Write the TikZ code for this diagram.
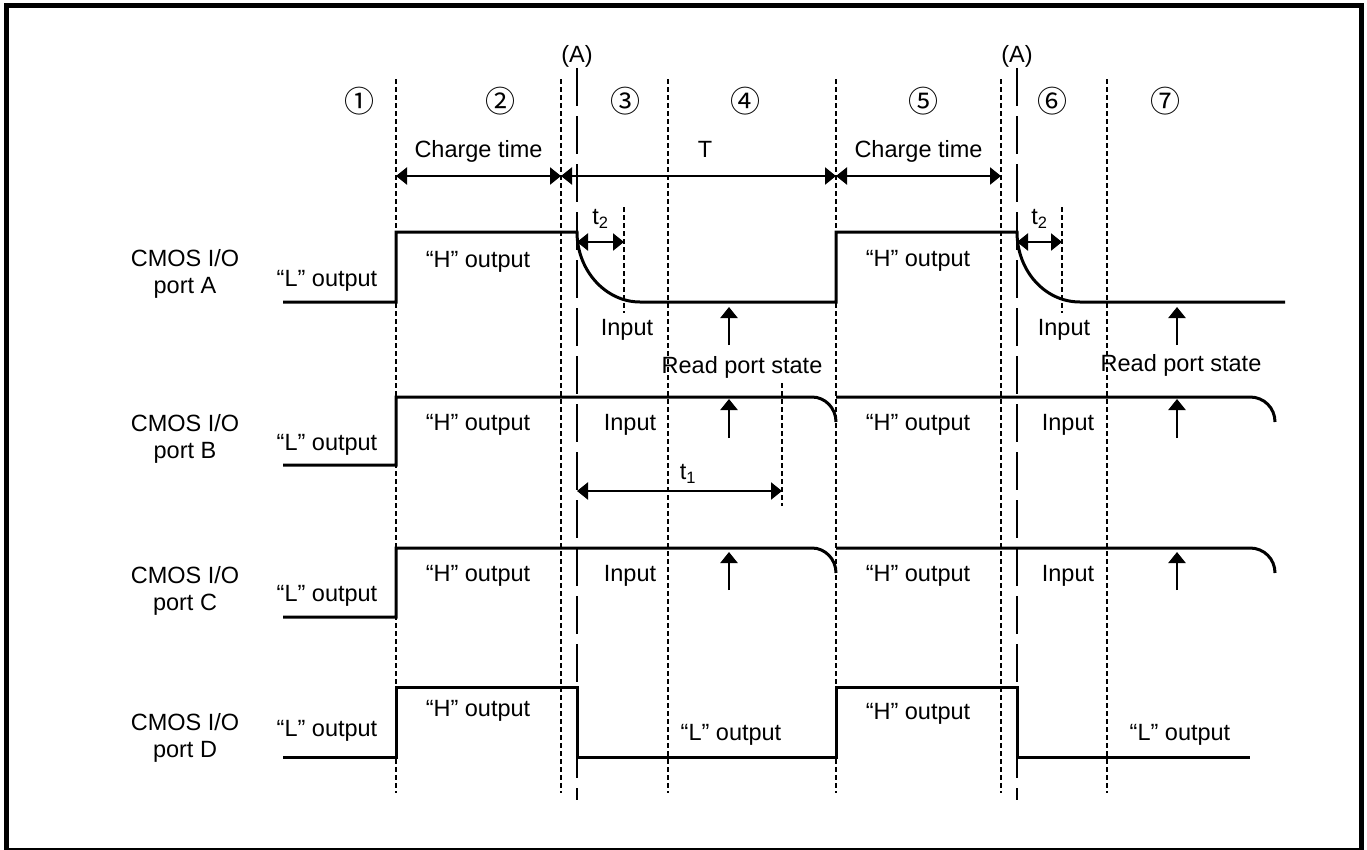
\documentclass[tikz,border=0pt]{standalone}
\usepackage{fontspec}
\setmainfont{Liberation Sans}
\newfontfamily\circfont{Noto Sans CJK JP}
\usetikzlibrary{arrows.meta}

\begin{document}
\begin{tikzpicture}[
  x=1pt, y=-1pt,
  font=\fontsize{23.5}{27}\selectfont,
  txt/.style={inner sep=0pt, text height=17pt, text depth=5pt},
  num/.style={inner sep=0pt, font=\circfont\fontsize{30}{30}\selectfont},
  sig/.style={line width=3pt},
  guide/.style={line width=1.1pt, dash pattern=on 5pt off 3pt},
  phaseline/.style={line width=2.8pt, dash pattern=on 38pt off 10pt},
  dim/.style={line width=2.4pt, {Triangle[length=11pt,width=17pt]}-{Triangle[length=11pt,width=17pt]}},
  readarr/.style={line width=2.4pt, -{Triangle[length=11pt,width=17pt]}}
]
  \useasboundingbox (0,0) rectangle (1367,849);
  \draw[line width=5pt] (6.5,5.5) rectangle (1361.5,850.5);

  \foreach \x in {396,561,668,836,1001,1107} {
    \draw[guide] (\x,79) -- (\x,793);
  }
  \draw[guide] (624,207) -- (624,313);
  \draw[guide] (1062,207) -- (1062,313);
  \draw[guide] (782,383) -- (782,506);
  \foreach \x/\i in {577/1,1017/2} {
    \draw[phaseline] (\x,68) -- (\x,800);
    \node[txt] (phA\i) at (\x,56) {(A)};
  }
  \foreach \d/\x [count=\i] in {①/359,②/500,③/625,④/745,⑤/923,⑥/1052,⑦/1165} {
    \node[num] (step\i) at (\x,101) {\d};
  }

  \coordinate (c1) at (396,176);
  \coordinate (c2) at (561,176);
  \coordinate (c3) at (836,176);
  \coordinate (c4) at (1001,176);
  \draw[dim] (c1) -- node[txt, above=12pt] (chg1) {Charge time} (c2);
  \draw[dim] (c2) -- node[txt, above=12pt, pos=0.524] (per) {T} (c3);
  \draw[dim] (c3) -- node[txt, above=12pt] (chg2) {Charge time} (c4);
  \coordinate (s1) at (577,242);
  \coordinate (s2) at (624,242);
  \coordinate (s3) at (1017,242);
  \coordinate (s4) at (1062,242);
  \draw[dim] (s1) -- node[txt, above=11pt] (tb1) {t\textsubscript{2}} (s2);
  \draw[dim] (s3) -- node[txt, above=11pt] (tb2) {t\textsubscript{2}} (s4);
  \coordinate (r1) at (577,491);
  \coordinate (r2) at (782,491);
  \draw[dim] (r1) -- node[txt, above=5pt, pos=0.541] (ta) {t\textsubscript{1}} (r2);

  \draw[sig] (283,302) -- (396,302) -- (396,232) -- (577,232)
    .. controls (577,271) and (606,302) .. (640,302) -- (836,302) -- (836,232) -- (1017,232)
    .. controls (1017,271) and (1045,302) .. (1080,302) -- (1285,302);
  \foreach \lo/\hi in {465/397,617/548} {
    \draw[sig] (283,\lo) -- (396,\lo) -- (396,\hi) -- (812,\hi)
      .. controls (825,\hi) and (836,\hi+11) .. (836,\hi+25);
    \draw[sig] (836,\hi) -- (1250,\hi)
      .. controls (1264,\hi) and (1275,\hi+11) .. (1275,\hi+25);
  }
  \draw[sig] (283,757) -- (396,757) -- (396,687) -- (577,687) -- (577,757) -- (836,757)
    -- (836,687) -- (1017,687) -- (1017,757) -- (1250,757);

  \foreach \x in {729,1177} {
    \foreach \yt/\yh in {345/307,438/399,590/552} {
      \draw[readarr] (\x,\yt) -- (\x,\yh);
    }
  }
  \node[txt] (rd1) at (742,367) {Read port state};
  \node[txt] (rd2) at (1181,365) {Read port state};

  \foreach \p/\y in {A/274,B/439,C/591,D/738} {
    \node[align=center, inner sep=0pt] (port\p) at (185,\y) {CMOS I/O\\port \p};
  }
  \foreach \x/\y/\t [count=\i] in {327/280/“L” output, 478/261/“H” output, 627/329/Input,
      918/260/“H” output, 1064/329/Input,
      327/444/“L” output, 478/424/“H” output, 630/424/Input, 918/424/“H” output, 1068/424/Input,
      327/595/“L” output, 478/575/“H” output, 630/575/Input, 918/575/“H” output, 1068/575/Input,
      327/730/“L” output, 478/710/“H” output, 731/734/“L” output, 918/713/“H” output,
      1180/734/“L” output} {
    \node[txt] (lv\i) at (\x,\y) {\t};
  }
\end{tikzpicture}
\end{document}
